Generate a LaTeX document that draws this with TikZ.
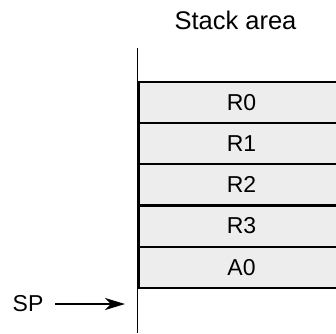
\documentclass[tikz,border=0pt]{standalone}
\usepackage{fontspec}
\setmainfont{Liberation Sans}
\usetikzlibrary{arrows.meta}
\definecolor{cellgray}{HTML}{EDEDED}
\tikzset{
  cellbox/.style={draw=black, fill=cellgray, line width=2pt, minimum width=206pt,
    minimum height=41pt, anchor=north west, inner sep=0pt, font=\fontsize{23}{26}\selectfont},
  ptrarrow/.style={line width=2.4pt, -{Stealth[length=20pt,width=12pt,inset=6pt]}}
}
\begin{document}
\begin{tikzpicture}[x=1pt, y=-1pt]
  \useasboundingbox (0,0) rectangle (336,333);
  \clip (0,0) rectangle (336,333);
  % draw title
  \node[font=\fontsize{25.5}{28}\selectfont] (stack_title) at (235.5,20) {Stack area};
  % draw stack axis line
  \coordinate (stack_top) at (137.5,48);
  \coordinate (stack_bot) at (137.5,333);
  \draw[line width=1pt] (stack_top) -- (stack_bot);
  % draw stack cells
  \node[cellbox] (cell_r0) at (137.5,81) {R0};
  \node[cellbox] (cell_r1) at (137.5,122) {R1};
  \node[cellbox] (cell_r2) at (137.5,163.3) {R2};
  \node[cellbox] (cell_r3) at (137.5,204.5) {R3};
  \node[cellbox] (cell_a0) at (137.5,245.7) {A0};
  % draw stack pointer
  \node[font=\fontsize{23}{26}\selectfont] (sp_label) at (28,304) {SP};
  \coordinate (sp_tip) at (125,304);
  \draw[ptrarrow, shorten <=8.5pt] (sp_label.east) -- (sp_tip);
\end{tikzpicture}
\end{document}
